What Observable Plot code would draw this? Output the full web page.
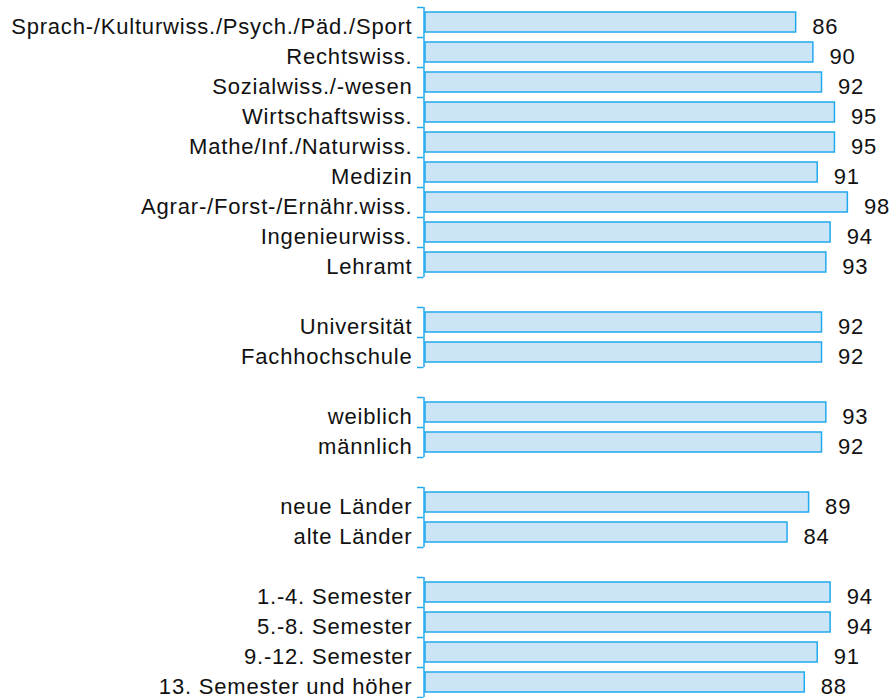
<!DOCTYPE html>
<html>
<head>
<meta charset="utf-8">
<script src="https://cdn.jsdelivr.net/npm/d3@7"></script>
<script src="https://cdn.jsdelivr.net/npm/@observablehq/plot@0.6"></script>
<style>
  html, body { margin: 0; padding: 0; background: #fff; }
  #chart svg { display: block; }
</style>
</head>
<body>
<div id="chart"></div>
<script>
// Data
const faecher = ["Sprach-/Kulturwiss./Psych./Päd./Sport", "Rechtswiss.", "Sozialwiss./-wesen", "Wirtschaftswiss.", "Mathe/Inf./Naturwiss.", "Medizin", "Agrar-/Forst-/Ernähr.wiss.", "Ingenieurwiss.", "Lehramt"];
const faecherWerte = [86, 90, 92, 95, 95, 91, 98, 94, 93];
const hochschulart = ["Universität", "Fachhochschule"];
const hochschulartWerte = [92, 92];
const geschlecht = ["weiblich", "männlich"];
const geschlechtWerte = [93, 92];
const region = ["neue Länder", "alte Länder"];
const regionWerte = [89, 84];
const semester = ["1.-4. Semester", "5.-8. Semester", "9.-12. Semester", "13. Semester und höher"];
const semesterWerte = [94, 94, 91, 88];

const groupList = [
  [faecher, faecherWerte],
  [hochschulart, hochschulartWerte],
  [geschlecht, geschlechtWerte],
  [region, regionWerte],
  [semester, semesterWerte]
];

const rows = [];
const domain = [];
groupList.forEach(([labels, vals], g) => {
  if (g > 0) domain.push("__gap" + g);
  labels.forEach((l, i) => {
    rows.push({label: l, value: vals[i], group: g, last: i === labels.length - 1});
    domain.push(l);
  });
});

const blue = "#22a9ec";
const fillBlue = "#cbe5f6";

const chart = Plot.plot({
  width: 890,
  height: 698,
  marginLeft: 425,
  marginRight: 34,
  marginTop: 7,
  marginBottom: 1,
  style: {fontFamily: "'Liberation Sans', Arial, sans-serif", fontSize: "22px", color: "#111", letterSpacing: "0.8px"},
  x: {domain: [0, 100], axis: null},
  y: {domain, padding: 0, axis: null},
  marks: [
    Plot.barX(rows, {x: "value", y: "label", insetTop: 5, insetBottom: 5, fill: fillBlue, stroke: blue, strokeWidth: 1.5}),
    Plot.tickX(rows, {x: 0, y: "label", stroke: blue, strokeWidth: 1.5, dx: -1.5}),
    Plot.ruleY(rows, {y: "label", x1: -1.5, x2: 0, dx: -1.5, dy: -15, stroke: blue, strokeWidth: 1.5, clip: false}),
    Plot.ruleY(rows.filter(d => d.last), {y: "label", x1: -1.5, x2: 0, dx: -1.5, dy: 15, stroke: blue, strokeWidth: 1.5, clip: false}),
    Plot.text(rows, {x: 0, y: "label", text: "label", textAnchor: "end", dx: -13, dy: 4, fill: "#111", fontSize: 22}),
    Plot.text(rows, {x: "value", y: "label", text: d => String(d.value), textAnchor: "start", dx: 16, dy: 4, fill: "#111", fontSize: 22})
  ]
});
document.getElementById("chart").appendChild(chart);
</script>
</body>
</html>
